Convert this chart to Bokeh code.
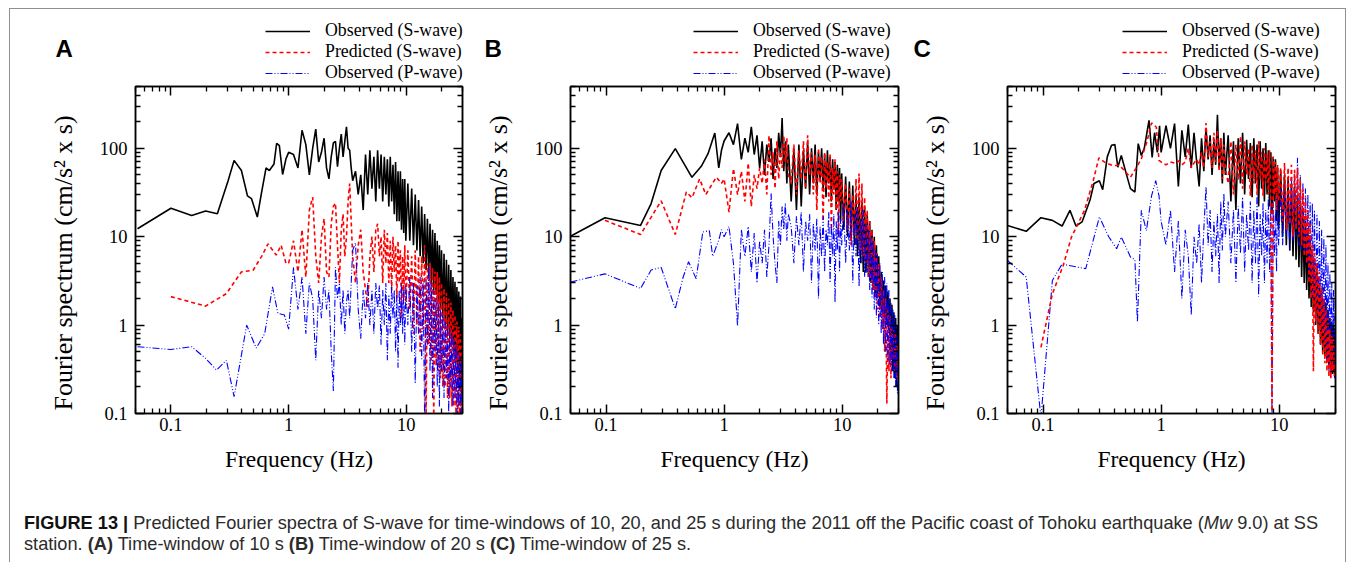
from bokeh.plotting import figure
from bokeh.models import (FixedTicker, CustomJSTickFormatter, LogAxis, Legend,
                          LegendItem, Label, Div, InlineStyleSheet)
from bokeh.layouts import row, column
from bokeh.embed import file_html
from bokeh.resources import INLINE

SERIF = "Liberation Serif"
SANS = "Liberation Sans"

# ---------------- tick positions ----------------
X_MAJOR = [0.1, 1, 10]
X_MINOR = [0.05, 0.06, 0.07, 0.08, 0.09, 0.2, 0.3, 0.4, 0.5, 0.6, 0.7, 0.8, 0.9,
           2, 3, 4, 5, 6, 7, 8, 9, 20, 30]
Y_MAJOR = [0.1, 1, 10, 100]
Y_MINOR = [0.2, 0.3, 0.4, 0.5, 0.6, 0.7, 0.8, 0.9, 2, 3, 4, 5, 6, 7, 8, 9,
           20, 30, 40, 50, 60, 70, 80, 90, 200, 300, 400, 500]

LEGEND_LABELS = ["Observed (S-wave)", "Predicted (S-wave)", "Observed (P-wave)"]
PANEL_LETTERS = ["A", "B", "C"]

# ---------------- data ----------------
# common frequency bins (Hz) above 1 Hz
F_HI = [1.0, 1.1, 1.2, 1.3, 1.4, 1.5, 1.6, 1.7, 1.8, 1.9, 2.0, 2.1, 2.2, 2.3, 2.4, 2.5,
        2.6, 2.7, 2.8, 2.9, 3.0, 3.1, 3.2, 3.3, 3.4, 3.5,
        3.7, 3.9, 4.1, 4.3, 4.5, 4.7, 4.9, 5.1, 5.3, 5.5, 5.7, 5.9, 6.1, 6.3, 6.5, 6.7,
        6.9, 7.1, 7.3, 7.5, 7.7, 7.9, 8.1, 8.3, 8.5, 8.7, 8.9, 9.1, 9.3, 9.5, 9.7, 9.9,
        10.3, 10.7, 11.1, 11.5, 11.9, 12.3, 12.7, 13.1, 13.5, 13.9, 14.3, 14.7, 15.1,
        15.5, 15.9, 16.3, 16.7, 17.1, 17.5, 17.9, 18.3, 18.7, 19.1, 19.5, 19.9, 20.4,
        20.9, 21.4, 21.9, 22.4, 22.9, 23.4, 23.9, 24.4, 24.9, 25.4, 25.9, 26.4, 26.9,
        27.4, 27.9, 28.4, 28.9, 29.4, 29.9]

# ---- Panel A (10 s window)
A_obs_s_f_lo = [0.052, 0.1, 0.15, 0.197, 0.248, 0.306, 0.344, 0.397, 0.447, 0.483, 0.542,
                0.586, 0.643, 0.686, 0.751, 0.791, 0.834, 0.889, 0.949]
A_obs_s_v_lo = [12.3, 21, 17.4, 19.5, 18.2, 43, 73, 56, 29, 27, 16.7, 30.5, 60, 56, 66.5,
                114, 107, 50.5, 76]
A_obs_s_v_hi = [90, 85, 60, 160, 110, 50, 100, 165, 70, 90, 130, 60, 45, 80, 115, 120, 62,
                100, 145, 80, 120, 175, 100, 95, 60, 43,
                55, 30, 50, 20, 85, 30, 95, 35, 80, 25, 95, 35, 85, 25, 80, 30, 75, 22, 80,
                25, 65, 18, 70, 15, 55, 15, 55, 12, 45, 11, 45, 9,
                40, 9, 35, 8, 30, 7, 26, 6, 22, 5, 18, 4.2, 16, 3.5, 14, 3, 12, 2.5, 11, 2.2,
                9, 1.8, 8, 1.5, 7, 1.2, 6.4, 1.0, 5.5, 0.85, 4.8, 0.7, 4.2, 0.6, 3.5, 0.5,
                3.1, 0.4, 2.7, 0.3, 2.4, 0.22, 2.1, 0.15, 1.2]
A_pre_s_f_lo = [0.1, 0.197, 0.296, 0.397, 0.499, 0.59, 0.668, 0.784, 0.864, 0.949]
A_pre_s_v_lo = [2.1, 1.64, 2.27, 4.0, 4.17, 6, 8.3, 6.2, 8.0, 5.0]
A_pre_s_v_hi = [5, 9, 4, 12, 3.5, 20, 28, 6, 3, 10, 16, 4, 3.5, 14, 22, 24, 8, 3, 12, 18,
                6, 10, 25, 40, 15, 6,
                3, 8, 12, 4, 2.5, 1.6, 6, 10, 4, 12, 14, 6, 10, 3, 12, 5, 11, 3, 9, 2.5, 10,
                4, 8, 2, 9, 3, 7, 1.2, 6, 2, 8, 1.5,
                7, 1.5, 6, 0.8, 7, 1, 6, 0.5, 6, 0.9, 8, 0.08, 5, 0.6, 5, 0.4, 4.5, 0.08, 4,
                0.35, 4, 0.3, 3.5, 0.25, 3, 0.2, 2.6, 0.2, 2.3, 0.15, 2, 0.15, 1.8, 0.12,
                1.5, 0.12, 1.3, 0.1, 1.1, 0.1, 0.95, 0.1, 0.8, 0.1, 0.6]
A_obs_p_f_lo = [0.052, 0.1, 0.15, 0.197, 0.244, 0.296, 0.344, 0.44, 0.53, 0.626, 0.73,
                0.81, 0.92]
A_obs_p_v_lo = [0.57, 0.53, 0.57, 0.42, 0.31, 0.40, 0.155, 1.0, 0.55, 0.80, 2.7, 1.36, 1.3]
A_obs_p_v_hi = [0.9, 4.5, 1.5, 3.5, 0.8, 3, 2, 0.4, 2.5, 1.2, 3.5, 1.5, 2.5, 0.5, 0.18,
                4.5, 2, 3, 1.0, 2.5, 0.8, 1.8, 2.5, 1.2, 3, 7,
                8.5, 1.5, 0.7, 2.5, 1.2, 3, 1, 2.5, 0.8, 3, 1.5, 2.8, 0.6, 2.5, 1, 3, 0.4,
                2.2, 0.8, 2.8, 1.2, 2.5, 0.5, 2.2, 0.33, 2.5, 1, 3, 0.8, 2.5, 0.6, 2.8,
                1, 3.5, 0.5, 3, 0.22, 2.8, 0.8, 3.5, 0.4, 3, 0.08, 3.5, 0.6, 4.6, 0.3, 3,
                0.15, 2.5, 0.5, 2, 0.2, 1.8, 0.12, 1.5, 0.3, 1.3, 0.15, 1.1, 0.25, 1.0,
                0.1, 0.9, 0.2, 0.8, 0.12, 0.7, 0.15, 0.6, 0.1, 0.5, 0.12, 0.45, 0.1, 0.4, 0.1]

# ---- Panel B (20 s window)
B_obs_s_f_lo = [0.05, 0.098, 0.196, 0.241, 0.293, 0.386, 0.534, 0.641, 0.731, 0.834, 0.901, 0.95]
B_obs_s_v_lo = [10.1, 16.4, 13.4, 23.7, 56, 99, 47, 62.5, 87, 149, 60, 95]
B_obs_s_v_hi = [121, 150, 110, 190, 75, 130, 90, 175, 85, 140, 60, 120, 50, 110, 70, 130,
                45, 100, 60, 150, 80, 220, 55, 120, 40, 110,
                25, 100, 20, 110, 22, 95, 35, 115, 30, 100, 40, 110, 30, 90, 45, 100, 35,
                85, 28, 95, 40, 80, 25, 75, 35, 70, 20, 65, 25, 60, 15, 52,
                12, 48, 10, 42, 9, 38, 8, 30, 6, 28, 5, 25, 4, 22, 3.9, 18, 3.5, 15, 3, 12,
                2.5, 10, 2.2, 8, 2, 6, 1.5, 4, 1.3, 3.2, 1.2, 2.8, 1, 2.4, 0.9, 2, 0.4, 1.7,
                0.3, 1.4, 0.25, 1.2, 0.2, 1, 0.5]
B_pre_s_f_lo = [0.098, 0.196, 0.293, 0.386, 0.479, 0.534, 0.62, 0.7, 0.77, 0.86, 0.95]
B_pre_s_v_lo = [15.3, 10.6, 25.4, 10.6, 32, 27.6, 45, 30, 37, 47, 40]
B_pre_s_v_hi = [45, 19, 59, 30, 55, 25, 68, 22, 50, 35, 60, 40, 75, 30, 140, 50, 90, 35,
                120, 45, 100, 60, 140, 70, 130, 50,
                40, 110, 30, 95, 45, 120, 35, 140, 50, 90, 30, 85, 20, 100, 40, 80, 15, 90,
                35, 70, 25, 85, 12, 60, 30, 75, 20, 55, 10, 50, 25, 45,
                15, 40, 12, 35, 8, 30, 10, 45, 9, 52, 7, 40, 6, 28, 5, 20, 3.5, 15, 3, 12,
                2.5, 9, 2, 6.5, 1.5, 5, 1.2, 3.5, 0.9, 2.5, 0.5, 2, 0.13, 1.6, 0.3, 1.3,
                0.25, 1, 0.4, 0.9, 0.3, 0.8, 0.25, 0.6, 0.3]
B_obs_p_f_lo = [0.05, 0.098, 0.196, 0.241, 0.293, 0.386, 0.45, 0.5, 0.58, 0.66, 0.75, 0.8,
                0.9, 0.95]
B_obs_p_v_lo = [3.07, 3.8, 2.6, 4.2, 4.5, 1.53, 3.5, 5.2, 3.35, 11.3, 11.7, 6, 9.1, 12]
B_obs_p_v_hi = [10, 13, 5, 0.97, 12, 6, 13, 4, 11, 3, 9, 5, 12, 3.5, 8, 31, 10, 5, 3, 15,
                8, 22, 12, 24, 9, 18,
                13, 5, 17, 8, 19, 4, 15, 9, 18, 3, 14, 7, 16, 2, 13, 6, 17, 4, 12, 8, 19, 3,
                14, 6, 18, 1.8, 15, 7, 20, 4, 16, 8,
                24, 5, 20, 7, 25, 3, 18, 6, 22, 2.7, 16, 5, 20, 3.5, 14, 4, 12, 2.5, 10, 2,
                9, 1.5, 7, 1.2, 6.5, 1, 5, 0.8, 4, 0.6, 3.5, 0.5, 3, 0.4, 2.5, 0.35, 1.8,
                0.3, 1.5, 0.25, 1.3, 0.2, 1, 0.17, 0.8]

# ---- Panel C (25 s window)
C_obs_s_f_lo = [0.05, 0.072, 0.096, 0.12, 0.145, 0.169, 0.19, 0.214, 0.25, 0.27, 0.30,
                0.32, 0.35, 0.38, 0.406, 0.43, 0.46, 0.51, 0.55, 0.60, 0.64, 0.68, 0.72,
                0.79, 0.84, 0.88, 0.93, 0.97]
C_obs_s_v_lo = [13.4, 11.5, 16.4, 15.3, 13.2, 19.9, 13.2, 14.7, 26, 40, 43, 34, 80, 108,
                110, 61, 83, 50, 35, 32, 113, 83, 100, 207, 79, 150, 90, 180]
C_obs_s_v_hi = [90, 180, 100, 190, 37, 160, 80, 185, 60, 150, 70, 37, 130, 55, 170, 75,
                140, 50, 120, 65, 240, 60, 130, 40, 150, 50,
                140, 25, 120, 20, 130, 40, 150, 30, 125, 45, 115, 28, 130, 40, 110, 22, 120,
                35, 100, 25, 115, 30, 95, 22, 90, 18, 80, 25, 75, 15, 60, 12,
                57, 10, 50, 8, 45, 7, 40, 6, 37, 5.5, 30, 4.5, 25, 3.5, 20, 3, 15, 2.5, 12,
                2, 9, 1.6, 6.5, 1.4, 5, 1, 4, 0.8, 3, 0.6, 2.5, 0.5, 2, 0.45, 1.8, 0.4,
                1.5, 0.35, 1.2, 0.3, 1.1, 0.28, 1, 0.3, 0.8]
C_pre_s_f_lo = [0.096, 0.12, 0.148, 0.174, 0.225, 0.266, 0.297, 0.33, 0.386, 0.445, 0.55,
                0.61, 0.68, 0.76, 0.83, 0.91, 0.96]
C_pre_s_v_lo = [0.56, 2.26, 4.7, 9.9, 20, 43, 78, 70, 64, 64, 47, 59, 76, 120, 194, 174, 73]
C_pre_s_v_hi = [70, 65, 70, 68, 72, 65, 70, 100, 60, 68, 75, 65, 90, 60, 193, 80, 120, 60,
                150, 70, 160, 55, 130, 45, 110, 60,
                40, 120, 30, 110, 44, 137, 35, 120, 50, 100, 29, 110, 40, 95, 30, 120, 45,
                90, 29, 100, 40, 85, 30, 95, 25, 0.08, 80, 30, 70, 20, 65, 25,
                60, 15, 68, 12, 60, 14, 65, 10, 57, 12, 60, 10, 45, 8, 35, 6, 28, 5, 20, 3,
                14, 2, 8, 0.3, 6.5, 1.1, 5, 0.8, 4, 0.6, 2.7, 0.45, 2, 0.37, 1.5, 0.3, 1.2,
                0.26, 0.9, 0.25, 0.75, 0.3, 0.7, 0.26, 0.5]
C_obs_p_f_lo = [0.05, 0.072, 0.096, 0.12, 0.145, 0.2, 0.23, 0.30, 0.36, 0.42, 0.46, 0.55,
                0.60, 0.63, 0.68, 0.75, 0.83, 0.9, 0.96]
C_obs_p_v_lo = [5.4, 3.5, 0.09, 3.2, 4.9, 4.5, 4.35, 16.7, 10, 7.3, 9.9, 5.9, 5.5, 1.08,
                19.9, 11.7, 29, 43, 29]
C_obs_p_v_hi = [15, 8, 20, 4, 15, 2, 12, 6, 1.3, 10, 5, 14, 3, 12, 37, 8, 20, 4, 15, 6,
                18, 3, 25, 7, 31, 10,
                25, 5, 20, 3, 22, 6.5, 28, 4, 18, 7, 25, 3, 20, 5, 31, 2.1, 18, 6, 24, 3,
                20, 5, 28, 4, 22, 0.08, 25, 6, 20, 4, 30, 8,
                35, 8, 40, 10, 30, 7, 45, 9, 55, 10, 78, 8, 50, 7, 40, 6.5, 35, 5, 30, 4,
                25, 3, 24, 2, 20, 1.5, 18, 1.2, 15, 1, 12, 0.8, 10, 0.6, 8, 0.4, 5, 0.3, 4,
                0.25, 3, 0.3, 2.5, 0.25, 2]

STYLE = {
    "obs_s": dict(line_color="black", line_width=1.6),
    "pre_s": dict(line_color="#ff0000", line_width=1.6, line_dash="4 3"),
    "obs_p": dict(line_color="#0000ff", line_width=1.1, line_dash="7 2 1 2 1 2"),
}
KEYS = ["obs_s", "pre_s", "obs_p"]

HEAD_H = 84


def style_axis(ax, ticks, minor, show_labels):
    ax.ticker = FixedTicker(ticks=ticks, minor_ticks=minor)
    if show_labels:
        ax.formatter = CustomJSTickFormatter(code="return tick.toString();")
        ax.major_label_text_font_size = "18.5px"
    else:
        ax.formatter = CustomJSTickFormatter(code="return '';")
        ax.major_label_standoff = 0
        ax.major_label_text_font_size = "0px"
    ax.major_tick_in = 9
    ax.major_tick_out = 0
    ax.minor_tick_in = 5
    ax.minor_tick_out = 0
    ax.major_tick_line_width = 1.5
    ax.minor_tick_line_width = 1.3
    ax.axis_line_width = 1.5
    ax.axis_line_color = "black"
    ax.major_tick_line_color = "black"
    ax.minor_tick_line_color = "black"
    ax.major_label_text_font = SERIF
    ax.major_label_text_color = "black"


def make_panel(series, order, frame_w, left, right):
    p = figure(x_axis_type="log", y_axis_type="log", x_range=(0.05, 30), y_range=(0.1, 500),
               frame_width=frame_w, frame_height=327,
               min_border_left=left, min_border_right=right,
               min_border_top=86 - HEAD_H, min_border_bottom=70,
               output_backend="svg", toolbar_location=None)
    p.xgrid.visible = False
    p.ygrid.visible = False
    p.outline_line_color = "black"
    p.outline_line_width = 1.5
    p.background_fill_color = "white"
    p.border_fill_color = "white"

    for key in order:
        f, v = series[key]
        p.line(f, v, **STYLE[key])

    style_axis(p.xaxis[0], X_MAJOR, X_MINOR, True)
    style_axis(p.yaxis[0], Y_MAJOR, Y_MINOR, True)
    p.xaxis[0].major_label_standoff = 4
    p.yaxis[0].major_label_standoff = 8
    p.xaxis[0].axis_label = "Frequency (Hz)"
    p.yaxis[0].axis_label = "Fourier spectrum (cm/s\u00b2 x s)\u00a0\u00a0\u00a0\u00a0"
    for ax, size, so in ((p.xaxis[0], "23.5px", 12), (p.yaxis[0], "26px", 19)):
        ax.axis_label_text_font = SERIF
        ax.axis_label_text_font_size = size
        ax.axis_label_text_font_style = "normal"
        ax.axis_label_text_color = "black"
        ax.axis_label_standoff = so

    top = LogAxis()
    style_axis(top, X_MAJOR, X_MINOR, False)
    p.add_layout(top, "above")
    rgt = LogAxis()
    style_axis(rgt, Y_MAJOR, Y_MINOR, False)
    p.add_layout(rgt, "right")
    return p


def make_header(letter, series, width, leg_x, letter_x):
    # the header only carries the legend and the panel letter; its ranges lie
    # outside the data, so the lines below only provide legend glyph styles
    h = figure(frame_width=width, frame_height=HEAD_H, x_range=(-2, -1), y_range=(-2, -1),
               min_border=0, x_axis_location=None, y_axis_location=None,
               output_backend="svg", toolbar_location=None)
    h.xgrid.visible = False
    h.ygrid.visible = False
    h.outline_line_color = None
    h.background_fill_color = "white"
    h.border_fill_color = "white"
    rend = {k: h.line(series[k][0], series[k][1], **STYLE[k]) for k in KEYS}
    items = [LegendItem(label=LEGEND_LABELS[i], renderers=[rend[k]])
             for i, k in enumerate(KEYS)]
    leg = Legend(items=items, location=(leg_x, 1), orientation="vertical",
                 border_line_alpha=0, background_fill_alpha=0, padding=0, margin=0,
                 spacing=0, glyph_width=45, glyph_height=20, label_height=20,
                 label_standoff=15, label_text_font=SERIF, label_text_font_size="17.8px",
                 label_text_color="black")
    h.add_layout(leg)
    h.add_layout(Label(x=letter_x, y=HEAD_H - 48, x_units="screen", y_units="screen",
                       text=letter, text_font=SANS, text_font_style="bold",
                       text_font_size="24px", text_baseline="middle", text_align="left",
                       text_color="black"))
    return h


series_A = {"obs_s": (A_obs_s_f_lo + F_HI, A_obs_s_v_lo + A_obs_s_v_hi),
            "pre_s": (A_pre_s_f_lo + F_HI, A_pre_s_v_lo + A_pre_s_v_hi),
            "obs_p": (A_obs_p_f_lo + F_HI, A_obs_p_v_lo + A_obs_p_v_hi)}
series_B = {"obs_s": (B_obs_s_f_lo + F_HI, B_obs_s_v_lo + B_obs_s_v_hi),
            "pre_s": (B_pre_s_f_lo + F_HI, B_pre_s_v_lo + B_pre_s_v_hi),
            "obs_p": (B_obs_p_f_lo + F_HI, B_obs_p_v_lo + B_obs_p_v_hi)}
series_C = {"obs_s": (C_obs_s_f_lo + F_HI, C_obs_s_v_lo + C_obs_s_v_hi),
            "pre_s": (C_pre_s_f_lo + F_HI, C_pre_s_v_lo + C_pre_s_v_hi),
            "obs_p": (C_obs_p_f_lo + F_HI, C_obs_p_v_lo + C_obs_p_v_hi)}

pA = make_panel(series_A, ["obs_s", "pre_s", "obs_p"], 327, 135, 18)
pB = make_panel(series_B, ["obs_s", "pre_s", "obs_p"], 328, 83, 19)
pC = make_panel(series_C, ["obs_s", "obs_p", "pre_s"], 328, 82, 35)

hA = make_header(PANEL_LETTERS[0], series_A, 480, 265, 55)
hB = make_header(PANEL_LETTERS[1], series_B, 430, 213, 4)
hC = make_header(PANEL_LETTERS[2], series_C, 445, 212, 3)

cap_html = (
    '<div style="font-family:\'Liberation Sans\',Arial,sans-serif;font-size:18.2px;'
    'line-height:21px;color:#2b2b2b;white-space:nowrap;padding:30px 0 0 24px;">'
    '<b style="color:#111">FIGURE 13 |</b> Predicted Fourier spectra of S-wave for time-windows '
    'of 10, 20, and 25 s during the 2011 off the Pacific coast of Tohoku earthquake '
    '(<i>Mw</i> 9.0) at SS<br>'
    'station. <b>(A)</b> Time-window of 10 s <b>(B)</b> Time-window of 20 s '
    '<b>(C)</b> Time-window of 25 s.</div>')
cap = Div(text=cap_html, width=1355, height=79, margin=0)

frame_css = InlineStyleSheet(css=(
    ":host::after{content:'';position:absolute;left:9px;top:8px;width:1337px;height:554px;"
    "border:1px solid #8f8f8f;border-bottom:none;box-sizing:border-box;pointer-events:none;}"))

layout = column(row(hA, hB, hC), row(pA, pB, pC), cap, stylesheets=[frame_css])

open("out.html", "w").write(file_html(layout, INLINE))
